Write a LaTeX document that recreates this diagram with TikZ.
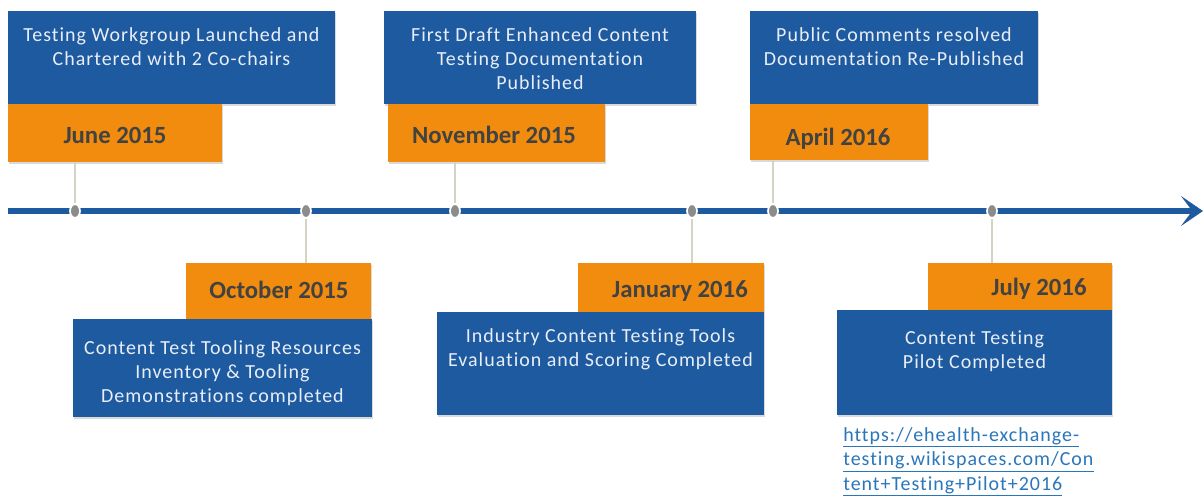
\documentclass[tikz,border=0pt]{standalone}
\usepackage{fontspec}
\setmainfont{Carlito}
\newfontfamily\evfont[LetterSpace=5,Ligatures=NoCommon]{Carlito}
\usetikzlibrary{arrows.meta,positioning,fit,shapes.geometric,shadows}

\definecolor{evblue}{RGB}{30,90,160}
\definecolor{dateorange}{RGB}{242,140,14}
\definecolor{dategray}{RGB}{66,66,66}
\definecolor{stemgray}{RGB}{214,210,198}
\definecolor{tickgray}{RGB}{140,140,140}
\definecolor{linkblue}{RGB}{42,118,186}

\tikzset{
  evbox/.style={fill=evblue, inner sep=0pt,
    drop shadow={shadow xshift=0.6pt, shadow yshift=-1.2pt, opacity=0.3}},
  datebox/.style={fill=dateorange, inner sep=0pt,
    drop shadow={shadow xshift=0.6pt, shadow yshift=-1.2pt, opacity=0.3}},
  evtext/.style={text=white!90!evblue, align=center, inner sep=0pt,
    font=\evfont\fontsize{14.2}{17}\selectfont},
  datetext/.style={text=dategray, inner sep=0pt, text height=11.3pt, text depth=0pt,
    font=\fontsize{17.6}{20}\selectfont\bfseries},
  linktext/.style={text=linkblue, align=left, inner sep=0pt,
    font=\evfont\fontsize{14.2}{17.4}\selectfont},
  stemline/.style={draw=stemgray, line width=1.7pt},
  tickdot/.style={ellipse, fill=tickgray, draw=white, line width=1.2pt,
    minimum width=0.25cm, minimum height=0.34cm, inner sep=0pt},
  timeline/.style={draw=evblue, line width=3.8pt,
    -{Stealth[length=0.55cm, width=0.75cm, inset=0.28cm]}}
}

\begin{document}
\begin{tikzpicture}[x=0.025cm, y=-0.025cm]
  \useasboundingbox (0,0) rectangle (1204,495);

  % boxes above the line
  \node[evbox, fit={(8,11) (335,104)}] (e1) {};
  \node[datebox, fit={(8,104) (222,162)}] (d1) {};
  \node[evbox, fit={(384,11) (696,104)}] (e3) {};
  \node[datebox, fit={(388,104) (605,162)}] (d3) {};
  \node[evbox, fit={(750,11) (1038,104)}] (e5) {};
  \node[datebox, fit={(750,104) (928,160)}] (d5) {};

  % boxes below the line
  \node[datebox, fit={(186,263) (371,319)}] (d2) {};
  \node[evbox, fit={(73,319) (372,417)}] (e2) {};
  \node[datebox, fit={(578,263) (764,312)}] (d4) {};
  \node[evbox, fit={(437,312) (764,415)}] (e4) {};
  \node[datebox, fit={(928,263) (1112,310)}] (d6) {};
  \node[evbox, fit={(837,310) (1112,415)}] (e6) {};

  % texts
  \node[evtext, below=12pt of e1.north] (e1t) {Testing Workgroup Launched and\\Chartered with 2 Co-chairs};
  \node[evtext, below=12pt of e3.north] (e3t) {First Draft Enhanced Content\\Testing Documentation\\Published};
  \node[evtext, below=12pt of e5.north] (e5t) {Public Comments resolved\\Documentation Re-Published};
  \node[evtext, below=15.5pt of e2.north] (e2t) {Content Test Tooling Resources\\Inventory \& Tooling\\Demonstrations completed};
  \node[evtext, below=12pt of e4.north] (e4t) {Industry Content Testing Tools\\Evaluation and Scoring Completed};
  \node[evtext, below=15pt of e6.north] (e6t) {Content Testing\\Pilot Completed};

  \node[datetext] (m1) at (115,135.5) {June 2015};
  \node[datetext] (m3) at (494,135.5) {November 2015};
  \node[datetext] (m5) at (838,138) {April 2016};
  \node[datetext] (m2) at (279,291) {October 2015};
  \node[datetext] (m4) at (680,289.5) {January 2016};
  \node[datetext] (m6) at (1039,287.5) {July 2016};

  \node[linktext, anchor=north west] (url) at (843,427)
    {\underline{https://ehealth-exchange-}\\\underline{testing.wikispaces.com/Con}\\\underline{tent+Testing+Pilot+2016}};

  % time line
  \coordinate (ax0) at (8,211);
  \coordinate (ax1) at (1203,211);
  \draw[timeline] (ax0) -- (ax1);

  \node[tickdot] (k1) at (75,211) {};
  \node[tickdot] (k2) at (306,211) {};
  \node[tickdot] (k3) at (455,211) {};
  \node[tickdot] (k4) at (692,211) {};
  \node[tickdot] (k5) at (773,211) {};
  \node[tickdot] (k6) at (992,211) {};

  \draw[stemline] (k1 |- d1.south) -- (k1);
  \draw[stemline] (k3 |- d3.south) -- (k3);
  \draw[stemline] (k5 |- d5.south) -- (k5);
  \draw[stemline] (k2) -- (k2 |- d2.north);
  \draw[stemline] (k4) -- (k4 |- d4.north);
  \draw[stemline] (k6) -- (k6 |- d6.north);
\end{tikzpicture}
\end{document}
